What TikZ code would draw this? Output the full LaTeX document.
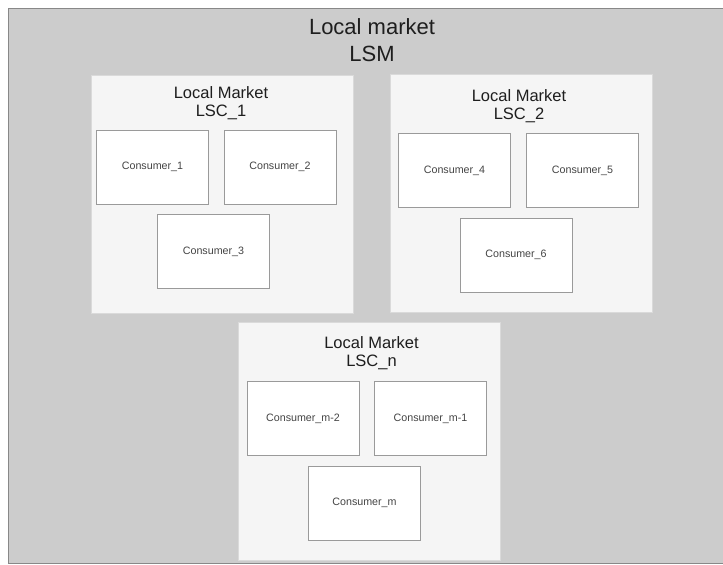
\documentclass[tikz,border=0pt]{standalone}
\usepackage{fontspec}
\setmainfont{Liberation Sans}
\definecolor{pagebg}{HTML}{CCCCCC}
\definecolor{frameline}{HTML}{888888}
\definecolor{marketfill}{HTML}{F5F5F5}
\definecolor{marketline}{HTML}{DADADA}
\definecolor{consumerline}{HTML}{9A9A9A}
\definecolor{titletext}{HTML}{1E1E1E}
\definecolor{bodytext}{HTML}{444444}
\tikzset{
  market/.style={draw=marketline, line width=1pt, fill=marketfill,
    minimum width=262pt, minimum height=238pt, inner sep=0pt},
  consumer/.style={draw=consumerline, line width=0.9pt, fill=white,
    minimum width=112pt, minimum height=74pt, inner sep=0pt,
    text=bodytext, font=\fontsize{10.7}{12}\selectfont},
  bigtitle/.style={anchor=base, inner sep=0pt, text=titletext,
    font=\fontsize{22}{26}\selectfont},
  markettitle/.style={anchor=base, inner sep=0pt, text=titletext,
    font=\fontsize{16.5}{19}\selectfont},
}
\begin{document}
\begin{tikzpicture}[x=1pt, y=-1pt]
  \useasboundingbox (0,0) rectangle (723,565);
  \clip (0,0) rectangle (723,565);

  % outer market frame, running past the right edge
  \node[draw=frameline, line width=1.2pt, fill=pagebg, inner sep=0pt,
        minimum width=740pt, minimum height=555pt, anchor=north west]
        (lsm) at (8,8) {};
  \node[bigtitle] (lsmtitle) at (372,34) {Local market};
  \node[bigtitle] (lsmname)  at (372,61) {LSM};

  % local market 1
  \node[market] (lsc1) at (222,194) {};
  \node[markettitle] (lsc1title) at (221,98) {Local Market};
  \node[markettitle] (lsc1name)  at (221,116) {LSC\_1};
  \node[consumer] (c1) at (152.5,167) {Consumer\_1};
  \node[consumer] (c2) at (280,167)   {Consumer\_2};
  \node[consumer] (c3) at (213.5,251.5) {Consumer\_3};

  % local market 2
  \node[market] (lsc2) at (521.5,193.5) {};
  \node[markettitle] (lsc2title) at (519,101) {Local Market};
  \node[markettitle] (lsc2name)  at (519,119) {LSC\_2};
  \node[consumer] (c4) at (454.5,170.5) {Consumer\_4};
  \node[consumer] (c5) at (582.5,170.5) {Consumer\_5};
  \node[consumer] (c6) at (516,255)     {Consumer\_6};

  % local market n
  \node[market] (lscn) at (369.5,441.5) {};
  \node[markettitle] (lscntitle) at (371.5,348) {Local Market};
  \node[markettitle] (lscnname)  at (371.5,366) {LSC\_n};
  \node[consumer] (cm2) at (303,418.5)   {Consumer\_m-2};
  \node[consumer] (cm1) at (430.5,418.5) {Consumer\_m-1};
  \node[consumer] (cm)  at (364.5,503)   {Consumer\_m};
\end{tikzpicture}
\end{document}
